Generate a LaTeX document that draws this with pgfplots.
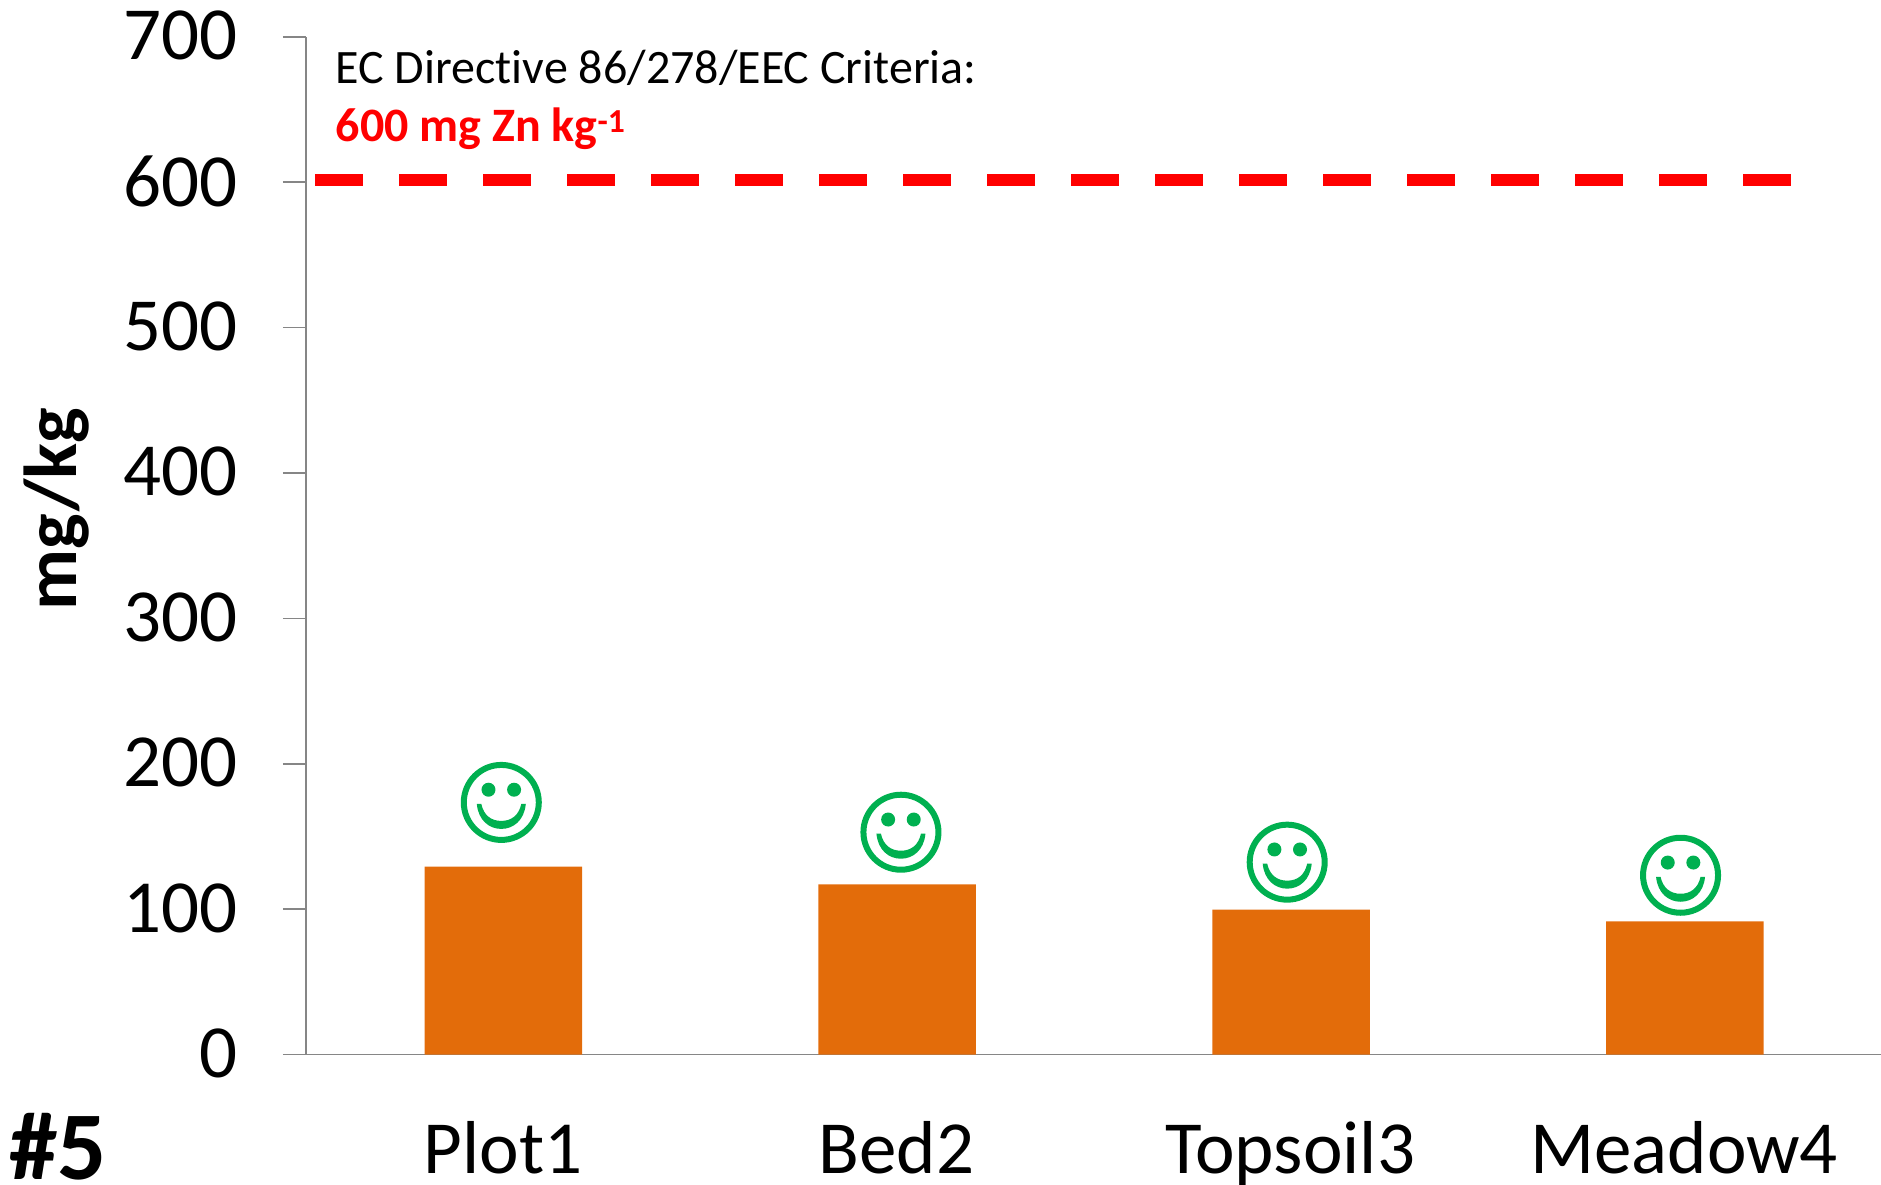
\documentclass[border=0pt]{standalone}
\usepackage{fontspec}
\setmainfont{Carlito}[Ligatures=NoCommon]
\usepackage{pgfplots}
\pgfplotsset{compat=1.18}
\definecolor{zorange}{HTML}{E36C0A}
\definecolor{zgreen}{HTML}{00B050}
\definecolor{zgray}{HTML}{868686}
\pgfdeclareplotmark{smiley}{%
  \pgfsetlinewidth{6pt}%
  \pgfpathcircle{\pgfpointorigin}{37.5pt}\pgfusepathqstroke
  \pgfpathcircle{\pgfpoint{-12.8pt}{12.7pt}}{7pt}\pgfusepathqfill
  \pgfpathcircle{\pgfpoint{12.8pt}{12.7pt}}{7pt}\pgfusepathqfill
  \pgfpathmoveto{\pgfpoint{-24.5pt}{-1.5pt}}%
  \pgfpathcurveto{\pgfpoint{-23pt}{-18pt}}{\pgfpoint{-12pt}{-26.5pt}}{\pgfpoint{0pt}{-26.5pt}}%
  \pgfpathcurveto{\pgfpoint{12pt}{-26.5pt}}{\pgfpoint{23pt}{-18pt}}{\pgfpoint{24.5pt}{-1.5pt}}%
  \pgfpathlineto{\pgfpoint{20pt}{-1.5pt}}%
  \pgfpathcurveto{\pgfpoint{17.5pt}{-13pt}}{\pgfpoint{10pt}{-18.5pt}}{\pgfpoint{0pt}{-18.5pt}}%
  \pgfpathcurveto{\pgfpoint{-10pt}{-18.5pt}}{\pgfpoint{-17.5pt}{-13pt}}{\pgfpoint{-20pt}{-1.5pt}}%
  \pgfpathclose\pgfusepathqfill
}
\begin{document}
\begin{tikzpicture}[x=1pt,y=1pt]
\path[use as bounding box] (0,-130.5) rectangle (1881,1054.5);
\begin{axis}[
  at={(306pt,0pt)}, anchor=south west,
  scale only axis, width=1575pt, height=1017.6pt,
  xmin=-0.5, xmax=3.5, ymin=0, ymax=700,
  axis x line=bottom, axis y line=left,
  axis line style={-, draw=zgray, line width=1.6pt},
  xtick={0,1,2,3}, xticklabels={Plot1,Bed2,Topsoil3,Meadow4},
  ytick={0,100,200,300,400,500,600,700},
  tick align=outside, major tick length=23pt,
  y tick style={draw=zgray, line width=1.6pt},
  x tick style={draw=none},
  /pgf/number format/assume math mode=true,
  tick label style={font=\fontsize{75}{82}\selectfont},
  yticklabel style={inner sep=0pt, xshift=-45.5pt, yshift=1.2pt},
  xticklabel style={inner sep=0pt, anchor=base, yshift=-95.5pt},
  ylabel={\textbf{mg/kg}},
  every axis y label/.style={at={(axis description cs:-0.1585,0.536)}, rotate=90, anchor=center, font=\fontsize{75}{82}\selectfont},
  clip=false,
]
\addplot[ybar, bar width=157.5pt, bar shift=0pt, fill=zorange, draw=none] coordinates {(0.001,129.3) (1.001,117) (2.002,99.7) (3.002,91.6)};
\addplot[red, line width=12pt, dash pattern=on 48pt off 36pt] coordinates {(-0.476,601.6) (3.275,601.6)};
\addplot[only marks, mark=smiley, mark options={draw=zgreen, fill=zgreen}] coordinates {(-0.004,173.4) (1.011,152.9) (1.992,132.3) (2.991,123.3)};
\end{axis}
\node[anchor=base west, inner sep=0pt, font=\fontsize{48}{54}\selectfont] at (335.5,971) {EC Directive 86/278/EEC Criteria:};
\node[anchor=base west, inner sep=0pt, text=red, font=\fontsize{48}{54}\selectfont\bfseries] at (335.5,913) {600 mg Zn kg\textsuperscript{-1}};
\node[anchor=base west, inner sep=0pt, font=\fontsize{97}{104}\selectfont\bfseries] at (9,-125) {\#5};
\end{tikzpicture}
\end{document}
